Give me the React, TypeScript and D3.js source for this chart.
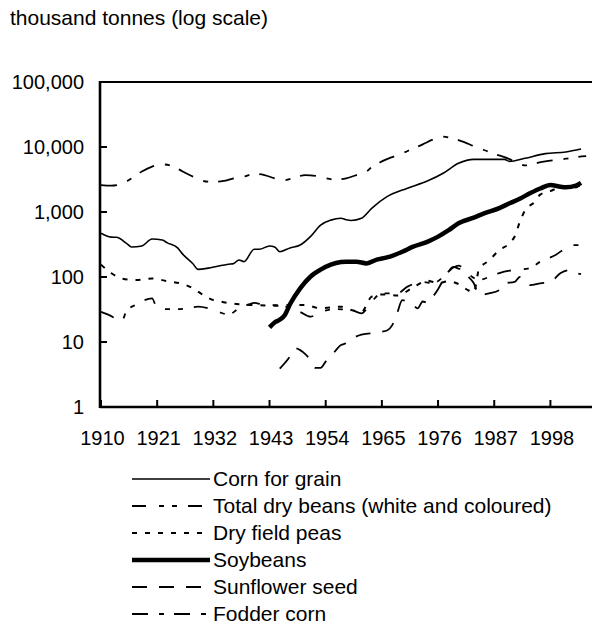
import React, { useEffect } from "react";
import * as d3 from "d3";

type Pt = [number, number];

const yearTicks = [1910, 1921, 1932, 1943, 1954, 1965, 1976, 1987, 1998];
const valueTicks = [1, 10, 100, 1000, 10000, 100000];

const cornForGrain: Pt[] = [
  [1910, 470], [1911, 430], [1912, 410], [1913, 408], [1915, 330], [1916, 290], [1918, 300],
  [1920, 384], [1922, 370], [1923, 335], [1925, 280], [1926, 225], [1928, 160], [1929, 131],
  [1931, 137], [1933, 148], [1935, 157], [1936, 162], [1937, 183], [1938, 172], [1940, 267],
  [1941, 267], [1943, 300], [1944, 290], [1945, 245], [1947, 280], [1949, 310], [1951, 418],
  [1953, 630], [1955, 750], [1957, 800], [1958, 760], [1959, 740], [1961, 800], [1963, 1140],
  [1966, 1720], [1970, 2320], [1974, 3020], [1977, 3940], [1980, 5610], [1983, 6450],
  [1986, 6450], [1989, 6450], [1990, 6000], [1993, 6700], [1997, 7900], [2001, 8400], [2004, 9300],
];

const totalDryBeans: Pt[] = [
  [1910, 29], [1912, 25], [1914, 20.5], [1915, 30], [1917, 38], [1920, 47], [1921, 33],
  [1923, 32], [1925, 32], [1927, 33], [1929, 35], [1931, 33], [1933, 29], [1935, 26.5],
  [1937, 33], [1939, 38], [1940, 40], [1942, 37], [1945, 37], [1947, 33], [1949, 29],
  [1951, 24.5], [1953, 29], [1956, 32], [1959, 31], [1961, 27.6], [1963, 42], [1965, 56],
  [1968, 56], [1970, 71], [1973, 84], [1975, 80], [1977, 100], [1979, 140], [1980, 150],
  [1982, 110], [1984, 90], [1986, 100], [1988, 115], [1990, 125], [1992, 130], [1994, 137],
  [1996, 172], [1999, 218], [2001, 280], [2002, 310], [2004, 310],
];

const dryFieldPeas: Pt[] = [
  [1910, 155], [1912, 115], [1914, 95], [1917, 90], [1920, 95], [1923, 86], [1926, 78],
  [1928, 67], [1930, 53], [1932, 44], [1934, 41], [1937, 38], [1940, 37], [1944, 36],
  [1947, 37], [1950, 37], [1953, 33], [1957, 35], [1959, 31], [1961, 29], [1963, 50],
  [1965, 54], [1968, 52], [1971, 68], [1974, 88], [1976, 80], [1978, 86], [1980, 78],
  [1982, 62], [1983, 58], [1984, 130], [1986, 180], [1988, 260], [1990, 330], [1991, 420],
  [1992, 700], [1993, 1050], [1995, 1450], [1996, 1850], [1998, 2100], [2000, 2400],
  [2002, 2300], [2004, 2600],
];

const soybeans: Pt[] = [
  [1943, 16.8], [1944, 20], [1945, 22], [1946, 26], [1947, 38], [1949, 67], [1951, 101],
  [1953, 130], [1955, 155], [1957, 170], [1958, 172], [1960, 172], [1962, 162], [1964, 185],
  [1966, 200], [1969, 245], [1971, 290], [1974, 350], [1976, 418], [1978, 520], [1980, 670],
  [1983, 820], [1985, 950], [1988, 1150], [1990, 1360], [1992, 1600], [1994, 1940],
  [1996, 2300], [1998, 2600], [2000, 2450], [2001, 2400], [2003, 2550], [2004, 2800],
];

const sunflowerSeed: Pt[] = [
  [1945, 3.9], [1947, 6], [1948, 8], [1949, 7.5], [1950, 6.5], [1951, 5.3], [1952, 4],
  [1953, 4], [1954, 5], [1955, 6], [1957, 9], [1958, 9.6], [1959, 11], [1961, 13],
  [1963, 13.6], [1965, 14.4], [1966, 15], [1967, 18], [1968, 28], [1969, 44], [1970, 42],
  [1971, 38], [1972, 33], [1973, 42], [1974, 40], [1975, 50], [1976, 65], [1977, 90],
  [1978, 120], [1979, 143], [1980, 135], [1981, 128], [1982, 100], [1983, 80], [1984, 53],
  [1986, 56], [1988, 63], [1989, 80], [1991, 84], [1992, 100], [1993, 90], [1994, 75],
  [1996, 80], [1998, 84], [2000, 115], [2002, 128], [2003, 115], [2004, 111],
];

const fodderCorn: Pt[] = [
  [1910, 2600], [1912, 2550], [1914, 2700], [1916, 3300], [1918, 4200], [1920, 5000],
  [1922, 5400], [1924, 5100], [1926, 4200], [1928, 3500], [1930, 3000], [1932, 2900],
  [1934, 3000], [1936, 3300], [1938, 3500], [1940, 3850], [1942, 3700], [1944, 3300],
  [1946, 3100], [1948, 3400], [1950, 3700], [1952, 3600], [1954, 3300], [1956, 3150],
  [1958, 3300], [1960, 3700], [1962, 4200], [1963, 4900], [1965, 6000], [1967, 7000],
  [1969, 8000], [1971, 9400], [1973, 11000], [1975, 13000], [1977, 14400], [1979, 13500],
  [1981, 12000], [1983, 10300], [1985, 9000], [1987, 7800], [1989, 7000], [1991, 6000],
  [1993, 5200], [1995, 5600], [1997, 6000], [1999, 6300], [2001, 6600], [2003, 7000],
  [2005, 7240],
];

const seriesNames = [
  "Corn for grain",
  "Total dry beans (white and coloured)",
  "Dry field peas",
  "Soybeans",
  "Sunflower seed",
  "Fodder corn",
];
const seriesData = [cornForGrain, totalDryBeans, dryFieldPeas, soybeans, sunflowerSeed, fodderCorn];
const seriesWidth = [1.6, 1.8, 2, 4.5, 1.8, 1.8];
const seriesDash = ["none", "14,13,5,8,5,11", "5,8", "none", "15,12", "16,11,5,10"];

const W = 592;
const H = 629;
const FONT = "'Liberation Sans', Arial, sans-serif";

export default function App() {
  useEffect(() => {
    document.body.style.margin = "0";
  }, []);

  const x = d3.scaleLinear().domain([1910, 2010]).range([101, 101 + 100 * 5.107]);
  const y = d3.scaleLog().domain([1, 100000]).range([407, 82]);
  const line = d3
    .line<Pt>()
    .x((d) => x(d[0]))
    .y((d) => y(d[1]))
    .curve(d3.curveMonotoneX);

  const legendX0 = 132;
  const legendX1 = 210;
  const legendY0 = 479;
  const legendStep = 27;

  return (
    <svg width={W} height={H} style={{ display: "block", background: "#fff" }} fontFamily={FONT}>
      <text x={10} y={25} fontSize={21} fill="#000">
        thousand tonnes (log scale)
      </text>

      <defs>
        <clipPath id="plotclip">
          <rect x={100} y={82} width={W - 100} height={325} />
        </clipPath>
      </defs>

      <g clipPath="url(#plotclip)">
        {seriesData.map((data, i) => (
          <path
            key={seriesNames[i]}
            d={line(data) || ""}
            fill="none"
            stroke="#000"
            strokeWidth={seriesWidth[i]}
            strokeDasharray={seriesDash[i]}
            strokeLinejoin="round"
          />
        ))}
      </g>

      {/* axes */}
      <line x1={100} x2={W} y1={y(100000)} y2={y(100000)} stroke="#000" strokeWidth={2.2} />
      <line x1={100} x2={W} y1={y(1)} y2={y(1)} stroke="#000" strokeWidth={2.6} />
      <line x1={100} x2={100} y1={y(100000) - 1} y2={y(1) + 1} stroke="#000" strokeWidth={2.6} />

      {valueTicks.map((v) => (
        <g key={"yt" + v}>
          <line x1={100} x2={107} y1={y(v)} y2={y(v)} stroke="#000" strokeWidth={2} />
          <text x={84} y={y(v)} dy="0.35em" textAnchor="end" fontSize={20} fill="#000">
            {d3.format(",")(v)}
          </text>
        </g>
      ))}

      {yearTicks.map((t) => (
        <g key={"xt" + t}>
          <line x1={x(t)} x2={x(t)} y1={y(1)} y2={y(1) - 7} stroke="#000" strokeWidth={2} />
          <text x={x(t) + 1.5} y={445} textAnchor="middle" fontSize={20} fill="#000">
            {t}
          </text>
        </g>
      ))}

      {/* legend */}
      {seriesNames.map((name, i) => {
        const ly = legendY0 + i * legendStep;
        return (
          <g key={"lg" + name}>
            <line
              x1={legendX0}
              x2={legendX1}
              y1={ly}
              y2={ly}
              stroke="#000"
              strokeWidth={seriesWidth[i]}
              strokeDasharray={seriesDash[i]}
            />
            <text x={213} y={ly} dy="0.35em" fontSize={21} fill="#000">
              {name}
            </text>
          </g>
        );
      })}
    </svg>
  );
}
